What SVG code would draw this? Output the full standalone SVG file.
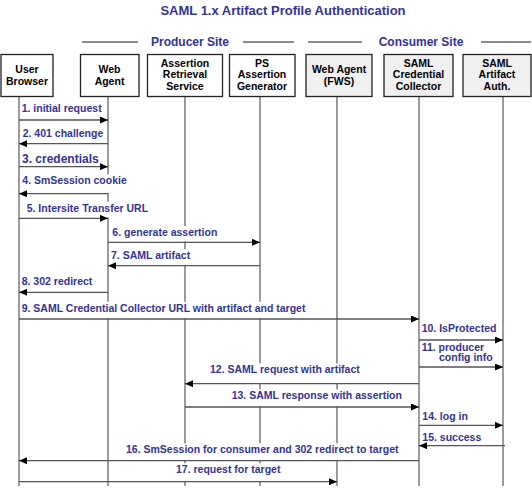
<svg xmlns="http://www.w3.org/2000/svg" width="532" height="488" viewBox="0 0 532 488">
<style>
text{font-family:"Liberation Sans",Arial,sans-serif;font-weight:bold}
.t{fill:#333399;font-size:13px}
.h{fill:#333399;font-size:12px}
.m{fill:#333399;font-size:10.5px}
.n{fill:#000;font-size:10.5px;text-anchor:middle}
.box{fill:#fff;stroke:#222;stroke-width:1.3}
.box2{fill:#f0f0f0;stroke:#222;stroke-width:1.3}
.life{stroke:#666;stroke-width:1.3;fill:none}
.hl{stroke:#666;stroke-width:1.6}
.a{stroke:#555;stroke-width:1.3;fill:none;marker-end:url(#ah)}
.bg{fill:#fff}
</style>
<defs>
<marker id="ah" viewBox="0 0 8 7" refX="8" refY="3.5" markerWidth="8" markerHeight="7" markerUnits="userSpaceOnUse" orient="auto">
<path d="M0,0 L8,3.5 L0,7 Z" fill="#000"/>
</marker>
</defs>
<rect width="532" height="488" fill="#fff"/>
<text class="t" x="283" y="15" text-anchor="middle">SAML 1.x Artifact Profile Authentication</text>
<g id="headers">
<line class="hl" x1="82" y1="42" x2="138" y2="42"/>
<text class="h" x="190" y="46" text-anchor="middle">Producer Site</text>
<line class="hl" x1="243" y1="42" x2="294" y2="42"/>
<line class="hl" x1="308" y1="42" x2="362" y2="42"/>
<text class="h" x="421" y="46" text-anchor="middle">Consumer Site</text>
<line class="hl" x1="481" y1="42" x2="531" y2="42"/>
</g>
<g id="lifelines">
<line class="life" x1="19" y1="96" x2="19" y2="486"/>
<line class="life" x1="108" y1="96" x2="108" y2="486"/>
<line class="life" x1="185" y1="96" x2="185" y2="486"/>
<line class="life" x1="260" y1="96" x2="260" y2="486"/>
<line class="life" x1="337" y1="96" x2="337" y2="486"/>
<line class="life" x1="419" y1="96" x2="419" y2="486"/>
<line class="life" x1="503" y1="96" x2="503" y2="486"/>
</g>
<g id="label-backgrounds">
<rect class="bg" x="21" y="174.3" width="109" height="18.6"/>
<rect class="bg" x="25.5" y="201.7" width="125" height="15.8"/>
<rect class="bg" x="111" y="226" width="109" height="15.5"/>
<rect class="bg" x="110" y="249.3" width="84" height="15.6"/>
<rect class="bg" x="20.5" y="301.7" width="290" height="16.5"/>
<rect class="bg" x="208.5" y="363.3" width="155" height="19.6"/>
<rect class="bg" x="230.5" y="389.3" width="175" height="16.9"/>
<rect class="bg" x="124.5" y="443.3" width="280" height="16.6"/>
<rect class="bg" x="174.5" y="463.3" width="109" height="17.6"/>
</g>
<g id="node-user-browser">
<rect class="box" x="1" y="54.5" width="52" height="42"/>
<text class="n" x="27" y="72.5">User</text>
<text class="n" x="27" y="84.5">Browser</text>
</g>
<g id="node-web-agent">
<rect class="box" x="80.5" y="54.5" width="58.5" height="42"/>
<text class="n" x="109.5" y="72.5">Web</text>
<text class="n" x="109.5" y="84.5">Agent</text>
</g>
<g id="node-assertion-retrieval">
<rect class="box" x="147.5" y="54.5" width="75" height="42"/>
<text class="n" x="185" y="66.5">Assertion</text>
<text class="n" x="185" y="78">Retrieval</text>
<text class="n" x="185" y="89.5">Service</text>
</g>
<g id="node-ps-assertion-generator">
<rect class="box" x="229.5" y="54.5" width="65.5" height="42"/>
<text class="n" x="262" y="66.5">PS</text>
<text class="n" x="262" y="78">Assertion</text>
<text class="n" x="262" y="89.5">Generator</text>
</g>
<g id="node-web-agent-fws">
<rect class="box2" x="306" y="54.5" width="66" height="42"/>
<text class="n" x="339" y="72.5">Web Agent</text>
<text class="n" x="339" y="84.5">(FWS)</text>
</g>
<g id="node-credential-collector">
<rect class="box2" x="384" y="54.5" width="69" height="42"/>
<text class="n" x="418.5" y="66.5">SAML</text>
<text class="n" x="418.5" y="78">Credential</text>
<text class="n" x="418.5" y="89.5">Collector</text>
</g>
<g id="node-artifact-auth">
<rect class="box2" x="463" y="54.5" width="68" height="42"/>
<text class="n" x="497" y="66.5">SAML</text>
<text class="n" x="497" y="78">Artifact</text>
<text class="n" x="497" y="89.5">Auth.</text>
</g>
<g id="connectors">
<line class="a" x1="19" y1="120" x2="108" y2="120"/>
<line class="a" x1="108" y1="143.7" x2="19" y2="143.7"/>
<line class="a" x1="19" y1="166.7" x2="108" y2="166.7"/>
<line class="a" x1="108" y1="193.7" x2="19" y2="193.7"/>
<line class="a" x1="19" y1="218.3" x2="108" y2="218.3"/>
<line class="a" x1="108" y1="242.3" x2="260" y2="242.3"/>
<line class="a" x1="260" y1="265.7" x2="108" y2="265.7"/>
<line class="a" x1="108" y1="292.3" x2="19" y2="292.3"/>
<line class="a" x1="19" y1="319" x2="419" y2="319"/>
<line class="a" x1="419" y1="340" x2="503" y2="340"/>
<line class="a" x1="419" y1="367" x2="503" y2="367"/>
<line class="a" x1="419" y1="383.7" x2="185" y2="383.7"/>
<line class="a" x1="185" y1="407" x2="419" y2="407"/>
<line class="a" x1="419" y1="425.3" x2="503" y2="425.3"/>
<line class="a" x1="505" y1="445.7" x2="419" y2="445.7"/>
<line class="a" x1="419" y1="460.7" x2="19" y2="460.7"/>
<line class="a" x1="19" y1="481.7" x2="337" y2="481.7"/>
</g>
<g id="labels">
<text class="m" x="21.7" y="112.3">1. initial request</text>
<text class="m" x="22.7" y="137.3">2. 401 challenge</text>
<text class="m" x="22" y="163.3" style="font-size:12px">3. credentials</text>
<text class="m" x="22.3" y="184.3">4. SmSession cookie</text>
<text class="m" x="26.7" y="211.7">5. Intersite Transfer URL</text>
<text class="m" x="112.3" y="236">6. generate assertion</text>
<text class="m" x="111" y="259.3">7. SAML artifact</text>
<text class="m" x="21.7" y="285">8. 302 redirect</text>
<text class="m" x="21.7" y="311.7">9. SAML Credential Collector URL with artifact and target</text>
<text class="m" x="421.7" y="332.3">10. IsProtected</text>
<text class="m" x="421.7" y="350.5">11. producer</text>
<text class="m" x="439" y="361">config info</text>
<text class="m" x="210" y="373.3">12. SAML request with artifact</text>
<text class="m" x="231.7" y="399.3">13. SAML response with assertion</text>
<text class="m" x="422.3" y="420">14. log in</text>
<text class="m" x="422.3" y="441">15. success</text>
<text class="m" x="126" y="453.3">16. SmSession for consumer and 302 redirect to target</text>
<text class="m" x="176" y="473.3">17. request for target</text>
</g>
</svg>
